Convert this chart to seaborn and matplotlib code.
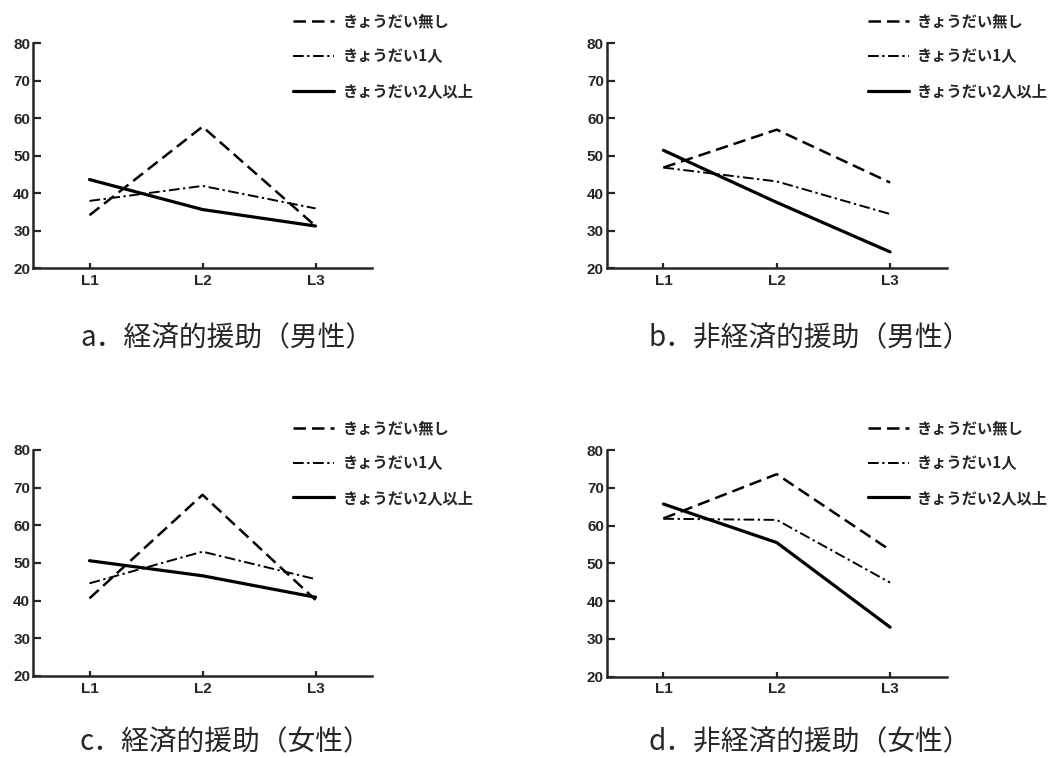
import matplotlib
matplotlib.use('Agg')
import matplotlib.pyplot as plt
import pandas as pd
import seaborn as sns

levels = ['L1', 'L2', 'L3']
groups = ['きょうだい無し', 'きょうだい1人', 'きょうだい2人以上']

# values, one list per group (L1, L2, L3)
a_none = [34.1, 57.7, 31.2]
a_one = [37.9, 41.9, 35.9]
a_two = [43.6, 35.6, 31.2]

b_none = [46.8, 56.9, 42.8]
b_one = [46.8, 43.1, 34.4]
b_two = [51.4, 37.5, 24.3]

c_none = [40.6, 68.1, 40.2]
c_one = [44.6, 53.0, 45.7]
c_two = [50.6, 46.6, 40.9]

d_none = [61.9, 73.6, 53.5]
d_one = [61.8, 61.5, 44.9]
d_two = [65.7, 55.5, 33.1]

captions = ['a．経済的援助（男性）', 'b．非経済的援助（男性）',
            'c．経済的援助（女性）', 'd．非経済的援助（女性）']

panels = [(a_none, a_one, a_two), (b_none, b_one, b_two),
          (c_none, c_one, c_two), (d_none, d_one, d_two)]

sns.set_style('ticks')
plt.rcParams['font.family'] = ['Noto Sans CJK JP', 'DejaVu Sans']

# style per group: dashes in linewidth units, line width
styles = {
    'きょうだい無し': ((5.0, 2.4), 1.8),
    'きょうだい1人': ((5.5, 1.8, 1.2, 1.8), 1.4),
    'きょうだい2人以上': ('', 2.3),
}

fig = plt.figure(figsize=(10.51, 7.58), dpi=100)
rects = [[0.0314, 0.6464, 0.3226, 0.2968],
         [0.5773, 0.6464, 0.3235, 0.2968],
         [0.0314, 0.1082, 0.3226, 0.2982],
         [0.5773, 0.1073, 0.3235, 0.2990]]
cap_pos = [(0.0761, 0.554), (0.6166, 0.554), (0.0761, 0.021), (0.6166, 0.021)]

tick_font = ['Liberation Sans', 'DejaVu Sans']

for rect, series, cap, cpos in zip(rects, panels, captions, cap_pos):
    ax = fig.add_axes(rect)
    for g, vals in zip(groups, series):
        df = pd.DataFrame({'level': levels, 'value': vals})
        dash, lw = styles[g]
        sns.lineplot(data=df, x='level', y='value', ax=ax, color='black',
                     linewidth=lw, dashes=dash, label=g, sort=False)
    ax.set_xlim(-0.5, 2.5)
    ax.set_ylim(20, 80)
    ax.set_yticks([20, 30, 40, 50, 60, 70, 80])
    ax.set_xlabel('')
    ax.set_ylabel('')
    sns.despine(ax=ax)
    for s in ['left', 'bottom']:
        ax.spines[s].set_linewidth(1.8)
    ax.tick_params(axis='y', direction='in', length=6, width=1.6, pad=2)
    ax.tick_params(axis='x', direction='in', length=3.5, width=1.6, pad=4)
    for lab in ax.get_xticklabels() + ax.get_yticklabels():
        lab.set_family(tick_font)
        lab.set_fontweight('bold')
        lab.set_fontsize(11)
    leg = ax.legend(loc='upper left', bbox_to_anchor=(0.767, 1.13),
                    frameon=False, borderpad=0, borderaxespad=0,
                    handlelength=2.7, handletextpad=0.55, labelspacing=1.22,
                    prop={'family': ['Noto Sans CJK JP', 'DejaVu Sans'],
                          'weight': 'bold', 'size': 11})
    fig.text(cpos[0], cpos[1], cap, ha='left', va='center', fontsize=20)

fig.savefig('out.png', dpi=100)
